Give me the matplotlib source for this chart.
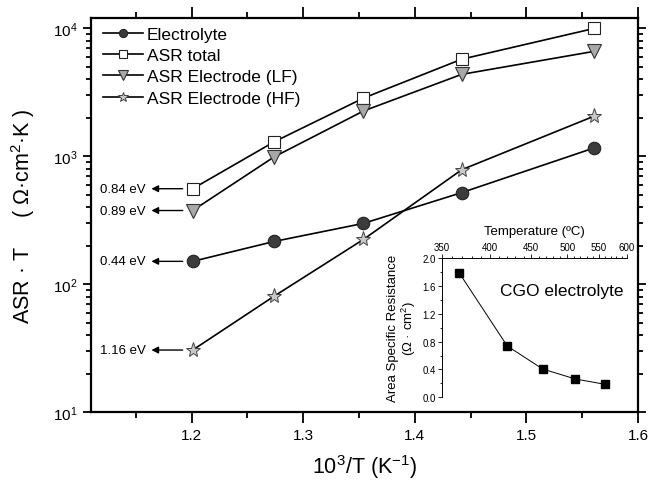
import numpy as np
import matplotlib
matplotlib.use('Agg')
import matplotlib.pyplot as plt
from matplotlib.ticker import MultipleLocator, LogLocator, NullFormatter

plt.rcParams['font.family'] = ['Liberation Sans', 'DejaVu Sans']
plt.rcParams['mathtext.fontset'] = 'custom'
plt.rcParams['mathtext.rm'] = 'Liberation Sans'

# main plot data (1000/T in K^-1, ASR*T in Ohm cm2 K)
inv_t = [1.201, 1.274, 1.354, 1.442, 1.561]
electrolyte = [151, 216, 299, 520, 1165]
asr_total = [558, 1298, 2850, 5740, 10000]
electrode_lf = [377, 990, 2260, 4370, 6620]
electrode_hf = [30.6, 80.7, 224, 785, 2065]

# activation energies labelled at the first point
ea_labels = ['0.84 eV', '0.89 eV', '0.44 eV', '1.16 eV']

# inset data
temp_c = [367, 420, 465, 512, 560]
asr_cgo = [1.79, 0.738, 0.407, 0.263, 0.187]

fig = plt.figure(figsize=(6.51, 4.81), dpi=100)
ax = fig.add_axes([0.140, 0.141, 0.840, 0.819])

ax.plot(inv_t, electrolyte, '-o', color='black', lw=1.2, ms=9,
        mfc='#3c3c3c', mec='#222222', mew=0.8, label='Electrolyte')
ax.plot(inv_t, asr_total, '-s', color='black', lw=1.2, ms=8,
        mfc='white', mec='#222222', mew=0.8, label='ASR total')
ax.plot(inv_t, electrode_lf, '-v', color='black', lw=1.2, ms=10,
        mfc='#a8a8a8', mec='#333333', mew=0.8, label='ASR Electrode (LF)')
ax.plot(inv_t, electrode_hf, '-*', color='black', lw=1.2, ms=11,
        mfc='#c8c8c8', mec='#444444', mew=0.7, label='ASR Electrode (HF)')

ax.set_yscale('log')
ax.set_xlim(1.11, 1.6)
ax.set_ylim(10, 1.2e4)

ax.xaxis.set_major_locator(MultipleLocator(0.1))
ax.xaxis.set_minor_locator(MultipleLocator(0.05))
ax.yaxis.set_major_locator(LogLocator(base=10, numticks=10))
ax.yaxis.set_minor_locator(LogLocator(base=10, subs=np.arange(2, 10), numticks=10))
ax.yaxis.set_minor_formatter(NullFormatter())
ax.set_xticks([1.2, 1.3, 1.4, 1.5, 1.6])
ax.set_xticklabels(['1.2', '1.3', '1.4', '1.5', '1.6'])

ax.tick_params(which='both', direction='out', top=True, right=True,
               labelsize=11, width=1.3)
ax.tick_params(axis='x', which='major', length=8)
ax.tick_params(axis='x', which='minor', length=4)
ax.tick_params(axis='y', which='major', length=6)
ax.tick_params(axis='y', which='minor', length=3.5)
for s in ax.spines.values():
    s.set_linewidth(1.6)

ax.set_xlabel('10$^3$/T (K$^{-1}$)', fontsize=15.5, labelpad=7)
ax.set_ylabel('ASR · T     ( Ω·cm$^2$·K )', fontsize=15.5, labelpad=12)

ax.legend(loc='upper left', bbox_to_anchor=(0.0, 1.01), frameon=False,
          fontsize=12.5, handlelength=2.3, handletextpad=0.2,
          labelspacing=0.36, borderaxespad=0.3, markerscale=0.65)

# activation energy arrows
first_vals = [asr_total[0], electrode_lf[0], electrolyte[0], electrode_hf[0]]
for lab, yv in zip(ea_labels, first_vals):
    ax.annotate('', xy=(inv_t[0] - 0.037, yv), xytext=(inv_t[0] - 0.009, yv),
                arrowprops=dict(arrowstyle='-|>', color='black', lw=1.0,
                                mutation_scale=10, shrinkA=0, shrinkB=0))
    ax.text(inv_t[0] - 0.042, yv, lab, ha='right', va='center', fontsize=9.5)

# inset
ins = fig.add_axes([0.679, 0.172, 0.284, 0.289])
ins.patch.set_alpha(0)
ins.set_xscale('function', functions=(lambda t: -1000.0 / (t + 273.15),
                                      lambda u: -1000.0 / u - 273.15))
ins.plot(temp_c, asr_cgo, '-s', color='black', lw=0.7, ms=5.5,
         mfc='black', mec='black')
ins.set_xlim(350, 600)
ins.set_ylim(0, 2.0)
ins.xaxis.set_major_locator(MultipleLocator(50))
ins.xaxis.set_minor_locator(MultipleLocator(10))
ins.yaxis.set_major_locator(MultipleLocator(0.4))
ins.yaxis.set_minor_locator(MultipleLocator(0.2))
ins.xaxis.tick_top()
ins.xaxis.set_label_position('top')
ins.spines['right'].set_visible(False)
ins.spines['bottom'].set_visible(False)
for s in ('left', 'top'):
    ins.spines[s].set_linewidth(0.7)
ins.tick_params(which='both', labelsize=7, width=0.6, pad=1.5)
ins.tick_params(which='major', length=3)
ins.tick_params(which='minor', length=1.8)
ins.set_xticks([350, 400, 450, 500, 550, 600])
ins.set_xticklabels(['350', '400', '450', '500', '550', '600'])
ins.set_yticks([0.0, 0.4, 0.8, 1.2, 1.6, 2.0])
ins.set_yticklabels(['0.0', '0.4', '0.8', '1.2', '1.6', '2.0'])
ins.set_xlabel('Temperature (ºC)', fontsize=9.5, labelpad=6)
ins.set_ylabel('Area Specific Resistance\n(Ω · cm$^2$)', fontsize=9.5,
               labelpad=3, linespacing=1.1)
ins.text(0.98, 0.77, 'CGO electrolyte', transform=ins.transAxes,
         ha='right', va='center', fontsize=12.5)

fig.savefig('out.png', dpi=100)
